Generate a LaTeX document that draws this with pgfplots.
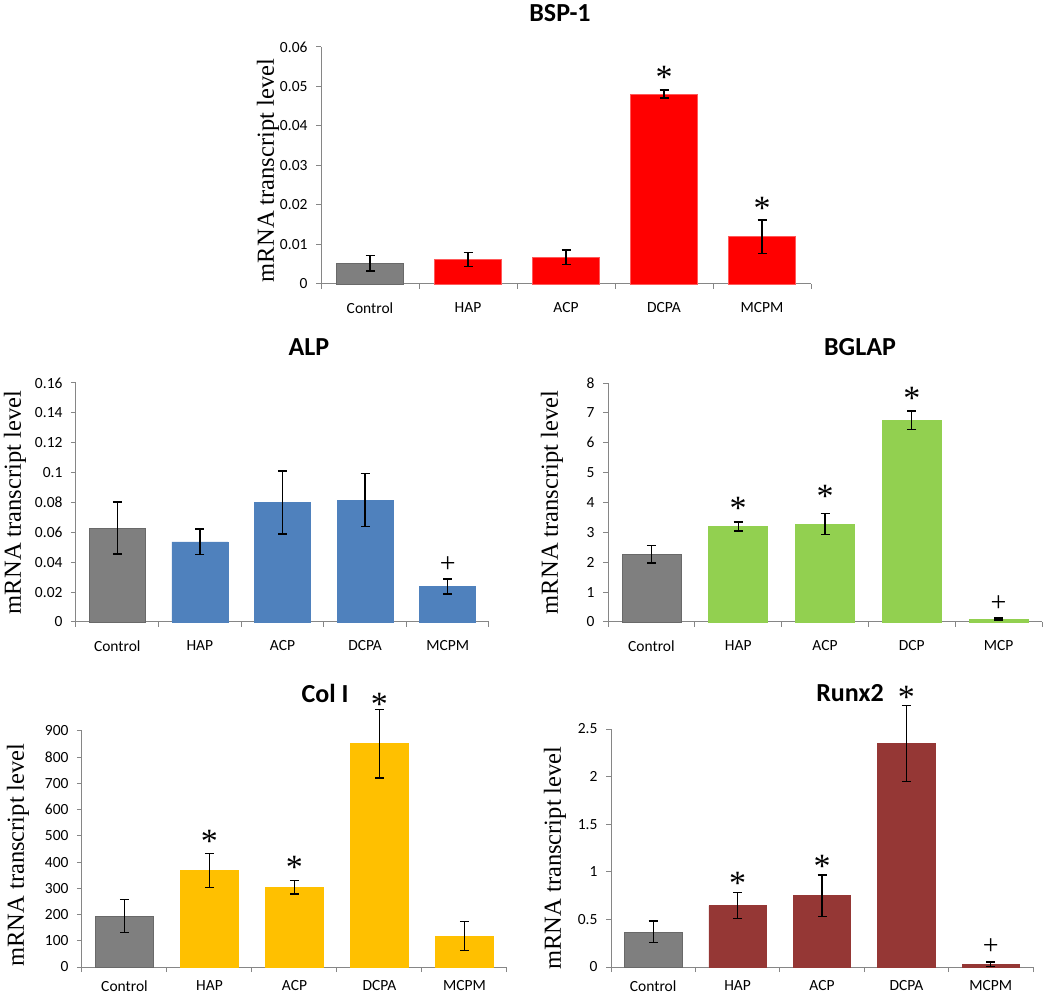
\documentclass[border=0pt]{standalone}
\usepackage{fontspec}
\setmainfont{Carlito}
\newfontfamily\seriffont{Liberation Serif}
\usepackage{pgfplots}
\pgfplotsset{compat=1.18}
\definecolor{axgray}{RGB}{134,134,134}
\definecolor{ctrl}{RGB}{127,127,127}
\definecolor{ctrledge}{RGB}{105,105,105}
\definecolor{cred}{RGB}{255,0,0}
\definecolor{credge}{RGB}{255,90,90}
\definecolor{cblue}{RGB}{79,129,189}
\definecolor{cgreen}{RGB}{146,208,80}
\definecolor{corange}{RGB}{255,192,0}
\definecolor{cdred}{RGB}{149,55,53}
\pgfplotsset{
  panel/.style={
    scale only axis, anchor=south west,
    xmin=-0.5, xmax=4.5, ymin=0,
    axis x line*=bottom, axis y line*=left,
    axis line style={draw=axgray, line width=1pt},
    xtick={0,1,2,3,4},
    minor xtick={-0.5,0.5,1.5,2.5,3.5,4.5},
    major x tick style={draw=none},
    minor x tick style={draw=axgray, line width=1pt},
    ytick style={draw=axgray, line width=1pt},
    tick align=outside, major tick length=5pt, minor tick length=5pt,
    tick label style={font=\fontsize{15.5}{18}\selectfont, text=black},
    yticklabel style={xshift=-5pt},
    scaled y ticks=false,
    /pgf/number format/fixed, /pgf/number format/1000 sep={},
    /pgf/number format/assume math mode=true,
    clip=false,
    ylabel={mRNA transcript level},
  },
  bars/.style={ybar, bar width=0.68, bar shift=0pt, fill=#1, draw=#1, line width=0.6pt,
    error bars/y dir=both, error bars/y explicit,
    error bars/error bar style={black, line width=1.3pt},
    error bars/error mark options={rotate=90, black, line width=1.3pt, mark size=4.5pt}},
  ctrlbar/.style={bars=ctrl, draw=ctrledge},
}
\newcommand{\sstar}{\seriffont\fontsize{34}{34}\selectfont *}
\newcommand{\splus}{\seriffont\fontsize{28}{28}\selectfont +}
\tikzset{st/.style={yshift=-5pt}, pl/.style={yshift=-2pt}}
\begin{document}
\begin{tikzpicture}
\useasboundingbox (0,0) rectangle (1050pt,994pt);
% titles
\node[font=\bfseries\fontsize{26}{30}\selectfont] at (560pt,981pt) {BSP-1};
\node[font=\bfseries\fontsize{26}{30}\selectfont] at (309pt,647pt) {ALP};
\node[font=\bfseries\fontsize{26}{30}\selectfont] at (860pt,647pt) {BGLAP};
\node[font=\bfseries\fontsize{26}{30}\selectfont] at (325pt,301pt) {Col I};
\node[font=\bfseries\fontsize{26}{30}\selectfont] at (850pt,301pt) {Runx2};

% BSP-1
\begin{axis}[panel, at={(321pt,710pt)}, width=490pt, height=237pt,
  ymax=0.06, ytick={0,0.01,0.02,0.03,0.04,0.05,0.06},
  xticklabels={Control,HAP,ACP,DCPA,MCPM},
  xticklabel style={yshift=-10pt},
  ylabel style={at={([xshift=-53pt,yshift=-5pt]axis description cs:0,0.5)}, anchor=center, font=\seriffont\fontsize{24.5}{28}\selectfont}]
\addplot[ctrlbar] coordinates {(0,0.0053) +- (0,0.0020)};
\addplot[bars=cred, draw=credge] coordinates {(1,0.0062) +- (0,0.0017) (2,0.0068) +- (0,0.0018) (3,0.0481) +- (0,0.0010) (4,0.0120) +- (0,0.0042)};
\node[st] at (axis cs:3,0.0537) {\sstar};
\node[st] at (axis cs:4,0.0203) {\sstar};
\end{axis}

% ALP
\begin{axis}[panel, at={(76pt,372pt)}, width=413pt, height=239pt,
  ymax=0.16, ytick={0,0.02,0.04,0.06,0.08,0.1,0.12,0.14,0.16},
  xticklabels={Control,HAP,ACP,DCPA,MCPM},
  xticklabel style={yshift=-10pt},
  ylabel style={at={([xshift=-61pt]axis description cs:0,0.5)}, anchor=center, font=\seriffont\fontsize{24.5}{28}\selectfont}]
\addplot[ctrlbar] coordinates {(0,0.063) +- (0,0.0174)};
\addplot[bars=cblue] coordinates {(1,0.0536) +- (0,0.0086) (2,0.080) +- (0,0.021) (3,0.0816) +- (0,0.0178) (4,0.0237) +- (0,0.005)};
\node[pl] at (axis cs:4,0.0398) {\splus};
\end{axis}

% BGLAP
\begin{axis}[panel, at={(608pt,372pt)}, width=434pt, height=239pt,
  ymax=8, ytick={0,1,2,3,4,5,6,7,8},
  xticklabels={Control,HAP,ACP,DCP,MCP},
  xticklabel style={yshift=-10pt},
  ylabel style={at={([xshift=-56pt]axis description cs:0,0.5)}, anchor=center, font=\seriffont\fontsize{24.5}{28}\selectfont}]
\addplot[ctrlbar] coordinates {(0,2.27) +- (0,0.30)};
\addplot[bars=cgreen] coordinates {(1,3.20) +- (0,0.15) (2,3.28) +- (0,0.35) (3,6.75) +- (0,0.31) (4,0.10) +- (0,0.03)};
\node[st] at (axis cs:1,3.98) {\sstar};
\node[st] at (axis cs:2,4.37) {\sstar};
\node[st] at (axis cs:3,7.66) {\sstar};
\node[pl] at (axis cs:4,0.68) {\splus};
\end{axis}

% Col I
\begin{axis}[panel, at={(82pt,27pt)}, width=425pt, height=236pt,
  ymax=900, ytick={0,100,200,300,400,500,600,700,800,900},
  xticklabels={Control,HAP,ACP,DCPA,MCPM},
  xticklabel style={yshift=-5pt},
  ylabel style={at={([xshift=-64pt,yshift=-6pt]axis description cs:0,0.5)}, anchor=center, font=\seriffont\fontsize{24.5}{28}\selectfont}]
\addplot[ctrlbar] coordinates {(0,194) +- (0,63)};
\addplot[bars=corange] coordinates {(1,368) +- (0,64) (2,304) +- (0,26) (3,852) +- (0,131) (4,118) +- (0,56)};
\node[st] at (axis cs:1,500) {\sstar};
\node[st] at (axis cs:2,400) {\sstar};
\node[st] at (axis cs:3,1020) {\sstar};
\end{axis}

% Runx2
\begin{axis}[panel, at={(611pt,27pt)}, width=422pt, height=238pt,
  ymax=2.5, ytick={0,0.5,1,1.5,2,2.5},
  xticklabels={Control,HAP,ACP,DCPA,MCPM},
  xticklabel style={yshift=-5pt},
  ylabel style={at={([xshift=-56pt,yshift=-10pt]axis description cs:0,0.5)}, anchor=center, font=\seriffont\fontsize{24.5}{28}\selectfont}]
\addplot[ctrlbar] coordinates {(0,0.369) +- (0,0.114)};
\addplot[bars=cdred] coordinates {(1,0.646) +- (0,0.139) (2,0.748) +- (0,0.218) (3,2.349) +- (0,0.40) (4,0.028) +- (0,0.025)};
\node[st] at (axis cs:1,0.93) {\sstar};
\node[st] at (axis cs:2,1.106) {\sstar};
\node[st] at (axis cs:3,2.89) {\sstar};
\node[pl] at (axis cs:4,0.24) {\splus};
\end{axis}
\end{tikzpicture}
\end{document}
